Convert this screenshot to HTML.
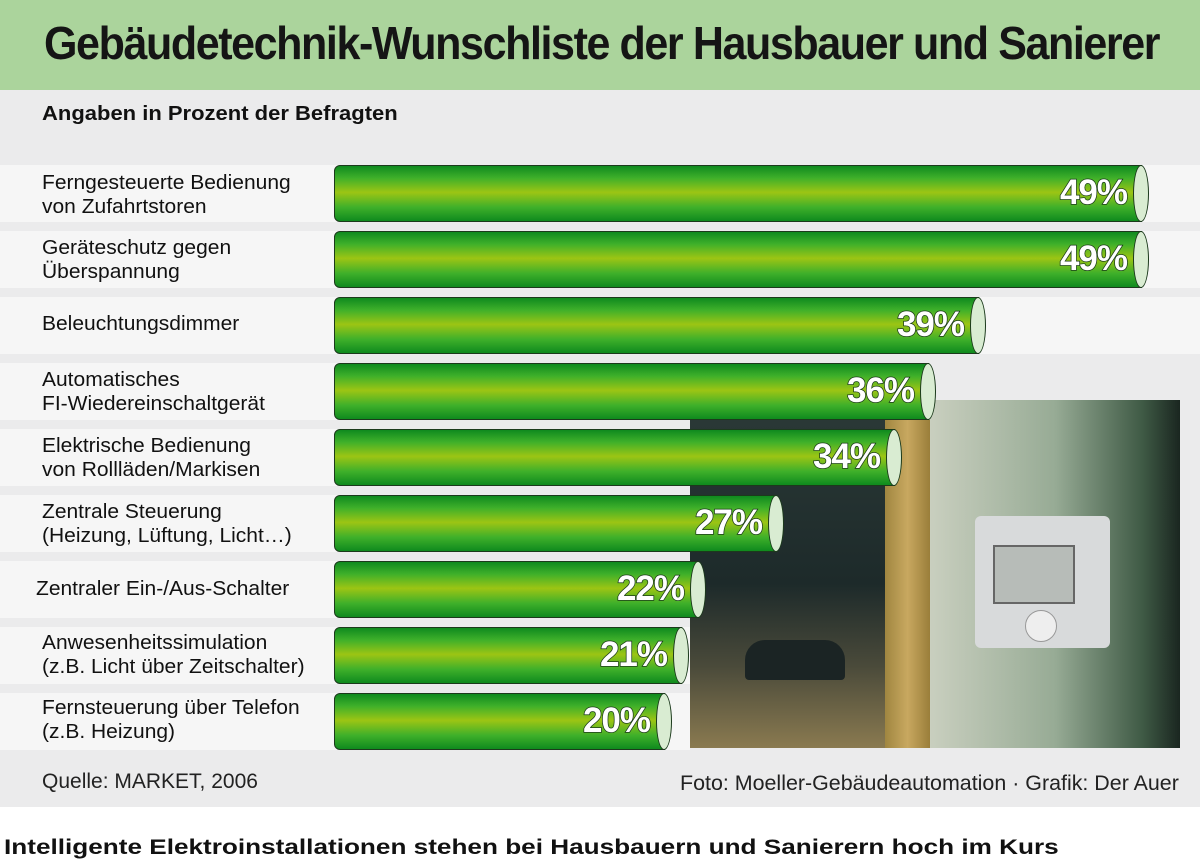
<!DOCTYPE html><html><head><meta charset="utf-8"><style>
body{margin:0;width:1200px;height:865px;background:#fff;font-family:"Liberation Sans",sans-serif;position:relative;overflow:hidden}
.abs{position:absolute}
.hdr{left:0;top:0;width:1200px;height:90px;background:#abd49c}
.hdr div{position:absolute;left:44px;top:16px;font-size:46px;font-weight:bold;color:#151515;letter-spacing:-1.5px;transform:scaleX(0.935);transform-origin:left;white-space:nowrap}
.gray{left:0;top:90px;width:1200px;height:717px;background:#ebebec}
.band{left:0;width:1200px;height:57px;background:#f6f6f6}
.lab{left:42px;font-size:20px;color:#111;line-height:24px;transform:scaleX(1.05);transform-origin:left;white-space:nowrap}
.bar{left:334px;height:55px;border:1.5px solid #1c3a1c;border-radius:6px 0 0 6px;background:linear-gradient(#0f8a1e 0%,#3fb02a 22%,#9cc514 48%,#3fb02a 75%,#0f8a1e 100%)}
.cap{position:absolute;right:-8px;top:-1.5px;width:14px;height:55px;border:1.5px solid #1c3a1c;border-radius:50%;background:#d9ecd2}
.val{position:absolute;right:14px;top:7px;font-size:35px;font-weight:bold;color:#fff;letter-spacing:-1px;-webkit-text-stroke:1.5px #1a3a1a;paint-order:stroke}
</style></head><body>
<div class="abs hdr"><div>Gebäudetechnik-Wunschliste der Hausbauer und Sanierer</div></div>
<div class="abs gray"></div>
<div class="abs" style="left:42px;top:103px;font-size:20px;font-weight:bold;color:#111;transform:scaleX(1.1);transform-origin:left;white-space:nowrap">Angaben in Prozent der Befragten</div>

<div class="abs band" style="top:165px"></div><div class="abs band" style="top:231px"></div><div class="abs band" style="top:297px"></div><div class="abs band" style="top:363px;width:690px"></div><div class="abs band" style="top:429px;width:690px"></div><div class="abs band" style="top:495px;width:690px"></div><div class="abs band" style="top:561px;width:690px"></div><div class="abs band" style="top:627px;width:690px"></div><div class="abs band" style="top:693px;width:690px"></div>

<!-- photo -->
<div class="abs" style="left:690px;top:400px;width:490px;height:348px;background:linear-gradient(90deg,#e6e1d2 0%,#c8cdbd 40%,#6f8a70 80%,#1e2a22 100%)"></div>
<div class="abs" style="left:690px;top:420px;width:195px;height:328px;background:linear-gradient(#2a3836 0%,#1d2a2a 50%,#4a4a3a 75%,#8a7a50 100%)"></div>
<div class="abs" style="left:885px;top:420px;width:45px;height:328px;background:linear-gradient(90deg,#a08640,#c8a860,#9a7e3a)"></div>
<div class="abs" style="left:930px;top:400px;width:250px;height:348px;background:linear-gradient(90deg,#c9cfbf 0%,#97ab95 50%,#3f5a45 85%,#1a2620 100%)"></div>
<div class="abs" style="left:975px;top:516px;width:135px;height:132px;background:#d8dadb;border-radius:6px"></div>
<div class="abs" style="left:993px;top:545px;width:78px;height:55px;background:#b7bcb8;border:2px solid #666"></div>
<div class="abs" style="left:1025px;top:610px;width:30px;height:30px;background:#eee;border-radius:50%;border:1px solid #999"></div>
<div class="abs" style="left:745px;top:640px;width:100px;height:40px;background:#1b2424;border-radius:20px 20px 4px 4px"></div>

<div class="abs lab" style="top:171px">Ferngesteuerte Bedienung<br>von Zufahrtstoren</div>
<div class="abs lab" style="top:236px">Geräteschutz gegen<br>Überspannung</div>
<div class="abs lab" style="top:312px">Beleuchtungsdimmer</div>
<div class="abs lab" style="top:368px">Automatisches<br>FI-Wiedereinschaltgerät</div>
<div class="abs lab" style="top:434px">Elektrische Bedienung<br>von Rollläden/Markisen</div>
<div class="abs lab" style="top:500px">Zentrale Steuerung<br>(Heizung, Lüftung, Licht…)</div>
<div class="abs lab" style="left:36px;top:577px">Zentraler Ein-/Aus-Schalter</div>
<div class="abs lab" style="top:631px">Anwesenheitssimulation<br>(z.B. Licht über Zeitschalter)</div>
<div class="abs lab" style="top:696px">Fernsteuerung über Telefon<br>(z.B. Heizung)</div>

<div class="abs bar" style="top:165px;width:806px"><div class="val">49%</div><div class="cap"></div></div>
<div class="abs bar" style="top:231px;width:806px"><div class="val">49%</div><div class="cap"></div></div>
<div class="abs bar" style="top:297px;width:643px"><div class="val">39%</div><div class="cap"></div></div>
<div class="abs bar" style="top:363px;width:593px"><div class="val">36%</div><div class="cap"></div></div>
<div class="abs bar" style="top:429px;width:559px"><div class="val">34%</div><div class="cap"></div></div>
<div class="abs bar" style="top:495px;width:441px"><div class="val">27%</div><div class="cap"></div></div>
<div class="abs bar" style="top:561px;width:363px"><div class="val">22%</div><div class="cap"></div></div>
<div class="abs bar" style="top:627px;width:346px"><div class="val">21%</div><div class="cap"></div></div>
<div class="abs bar" style="top:693px;width:329px"><div class="val">20%</div><div class="cap"></div></div>

<div class="abs" style="left:42px;top:770px;font-size:21px;color:#222;white-space:nowrap">Quelle: MARKET, 2006</div>
<div class="abs" style="left:680px;top:772px;font-size:21px;color:#222;transform:scaleX(1.02);transform-origin:left;white-space:nowrap">Foto: Moeller-Gebäudeautomation · Grafik: Der Auer</div>
<div class="abs" style="left:4px;top:836px;font-size:21px;font-weight:bold;color:#111;transform:scaleX(1.245);transform-origin:left;white-space:nowrap">Intelligente Elektroinstallationen stehen bei Hausbauern und Sanierern hoch im Kurs</div>
</body></html>
